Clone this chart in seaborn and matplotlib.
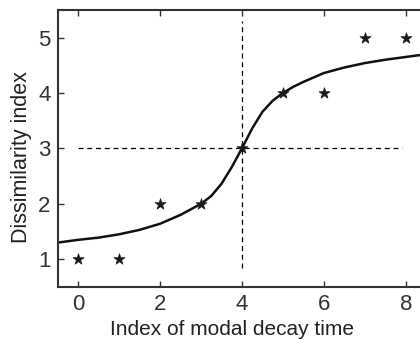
import numpy as np
import pandas as pd
import matplotlib
matplotlib.use('Agg')
import matplotlib.pyplot as plt
import seaborn as sns

# 측정값 (별표)
decay_idx = [0, 1, 2, 3, 4, 5, 6, 7, 8]
dissim_idx = [1, 1, 2, 2, 3, 4, 4, 5, 5]

# 적합 곡선
fit_x = [-0.5, 0, 0.5, 1.0, 1.5, 2.0, 2.5, 3.0, 3.25, 3.5, 3.75, 4.0,
         4.25, 4.5, 4.75, 5.0, 5.25, 5.5, 6.0, 6.5, 7.0, 7.5, 8.0, 8.5]
fit_y = [1.30, 1.35, 1.39, 1.45, 1.53, 1.64, 1.80, 2.00, 2.14, 2.36, 2.66, 3.00,
         3.36, 3.66, 3.86, 4.00, 4.11, 4.20, 4.36, 4.46, 4.54, 4.60, 4.65, 4.70]

# 기준선
center_x = 4
center_y = 3

sns.set_style('ticks')
plt.rcParams['font.family'] = ['Liberation Sans', 'DejaVu Sans']
plt.rcParams['font.size'] = 15.5

pts = pd.DataFrame({'x': decay_idx, 'y': dissim_idx})
fit = pd.DataFrame({'x': fit_x, 'y': fit_y})

fig = plt.figure(figsize=(4.2, 3.4), dpi=100)
ax = fig.add_axes([0.137, 0.156, 0.878, 0.815])

ax.plot([0, 7.9], [center_y, center_y], color='black', lw=0.9, ls=(0, (4, 3)))
ax.plot([center_x, center_x], [0.85, 5.3], color='black', lw=0.9, ls=(0, (4, 3)))

sns.lineplot(data=fit, x='x', y='y', color='#111111', lw=1.8, ax=ax, sort=False)
sns.scatterplot(data=pts, x='x', y='y', marker='*', s=70, color='#1a1a1a',
                edgecolor='#1a1a1a', linewidth=0.5, ax=ax, zorder=5)

ax.set_xlim(-0.5, 8.5)
ax.set_ylim(0.5, 5.5)
ax.set_xticks([0, 2, 4, 6, 8])
ax.set_yticks([1, 2, 3, 4, 5])
ax.tick_params(direction='in', length=4, width=1, top=True, right=True, pad=5,
               colors='#333333', labelcolor='#333333', labelsize=16)
for s in ax.spines.values():
    s.set_linewidth(1.5)
    s.set_color('#333333')

ax.set_xlabel('Index of modal decay time', color='#222222', fontsize=15)
ax.set_ylabel('Dissimilarity index', color='#222222', fontsize=15.5)
ax.xaxis.set_label_coords(0.473, -0.118)
ax.yaxis.set_label_coords(-0.07, 0.47)

fig.savefig('out.png', dpi=100)
